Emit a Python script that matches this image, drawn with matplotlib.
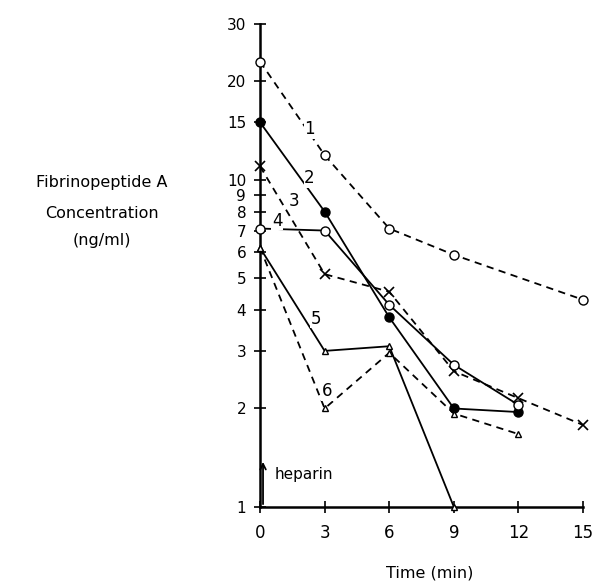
import matplotlib
matplotlib.use("Agg")
import matplotlib.pyplot as plt

times = [0, 3, 6, 9, 12, 15]

s1_x = [0, 3, 6, 9, 15]
s1_y = [23.0, 11.9, 7.1, 5.9, 4.3]

s2_x = [0, 3, 6, 9, 12]
s2_y = [15.0, 8.0, 3.8, 2.0, 1.95]

s3_x = [0, 3, 6, 9, 12, 15]
s3_y = [11.0, 5.15, 4.55, 2.6, 2.15, 1.78]

s4_x = [0, 3, 6, 9, 12]
s4_y = [7.1, 7.0, 4.15, 2.72, 2.05]

s5_x = [0, 3, 6, 9]
s5_y = [6.2, 3.0, 3.1, 1.0]

s6_x = [0, 3, 6, 9, 12]
s6_y = [6.2, 2.0, 2.96, 1.93, 1.67]

ytick_vals = [1, 2, 3, 4, 5, 6, 7, 8, 9, 10, 15, 20, 30]
ytick_labels = ["1", "2", "3", "4", "5", "6", "7", "8", "9", "10", "15", "20", "30"]
xtick_vals = [0, 3, 6, 9, 12, 15]

curve_labels = ["1", "2", "3", "4", "5", "6"]
label_x = [2.3, 2.3, 1.6, 0.8, 2.6, 3.1]
label_y = [14.3, 10.1, 8.6, 7.5, 3.76, 2.26]

fig = plt.figure(figsize=(5.95, 5.82), dpi=100)
ax = fig.add_axes([0.437, 0.129, 0.543, 0.830])
ax.set_yscale("log")
ax.set_xlim(0, 15)
ax.set_ylim(1, 30)

k = "black"
lw = 1.3
ms = 6.5
ax.plot(s1_x, s1_y, linestyle=(0, (4, 3)), color=k, lw=lw, marker="o", mfc="white", mec=k, ms=ms, clip_on=False, zorder=3)
ax.plot(s2_x, s2_y, linestyle="-", color=k, lw=lw, marker="o", mfc=k, mec=k, ms=ms, clip_on=False, zorder=3)
ax.plot(s3_x, s3_y, linestyle=(0, (4, 3)), color=k, lw=lw, marker="x", mec=k, ms=ms, mew=1.2, clip_on=False, zorder=3)
ax.plot(s4_x, s4_y, linestyle="-", color=k, lw=lw, marker="o", mfc="white", mec=k, ms=ms, clip_on=False, zorder=3)
ax.plot(s5_x, s5_y, linestyle="-", color=k, lw=lw, marker="^", mfc="white", mec=k, ms=5, clip_on=False, zorder=3)
ax.plot(s6_x, s6_y, linestyle=(0, (4, 3)), color=k, lw=lw, marker="^", mfc="white", mec=k, ms=5, clip_on=False, zorder=3)

for t, x, y in zip(curve_labels, label_x, label_y):
    ax.text(x, y, t, fontsize=12, ha="center", va="center", color=k,
            bbox=dict(facecolor="white", edgecolor="none", pad=0.5))

ax.annotate("", xy=(0.14, 1.4), xytext=(0.14, 1.0),
            arrowprops=dict(arrowstyle="->", color=k, lw=1.3))
ax.text(0.7, 1.26, "heparin", fontsize=11, ha="left", va="center", color=k)

for side in ["top", "right"]:
    ax.spines[side].set_visible(False)
ax.spines["left"].set_linewidth(1.8)
ax.spines["bottom"].set_linewidth(1.8)

ax.set_yticks(ytick_vals)
ax.set_yticklabels(ytick_labels)
ax.yaxis.set_minor_locator(matplotlib.ticker.NullLocator())
ax.set_xticks(xtick_vals)
ax.set_xticklabels([str(v) for v in xtick_vals])
ax.tick_params(axis="both", direction="inout", length=8, width=1.2, colors=k)
ax.tick_params(axis="y", pad=6, labelsize=11)
ax.tick_params(axis="x", pad=8, labelsize=12)

ax.set_xlabel("Time (min)", fontsize=11.5, va="center")
ax.xaxis.set_label_coords(0.526, -0.137)

fig.text(0.171, 1 - 183 / 582, "Fibrinopeptide A", fontsize=11.5, ha="center", va="center")
fig.text(0.171, 1 - 213 / 582, "Concentration", fontsize=11.5, ha="center", va="center")
fig.text(0.171, 1 - 240 / 582, "(ng/ml)", fontsize=11.5, ha="center", va="center")

fig.savefig("out.png", dpi=100)
